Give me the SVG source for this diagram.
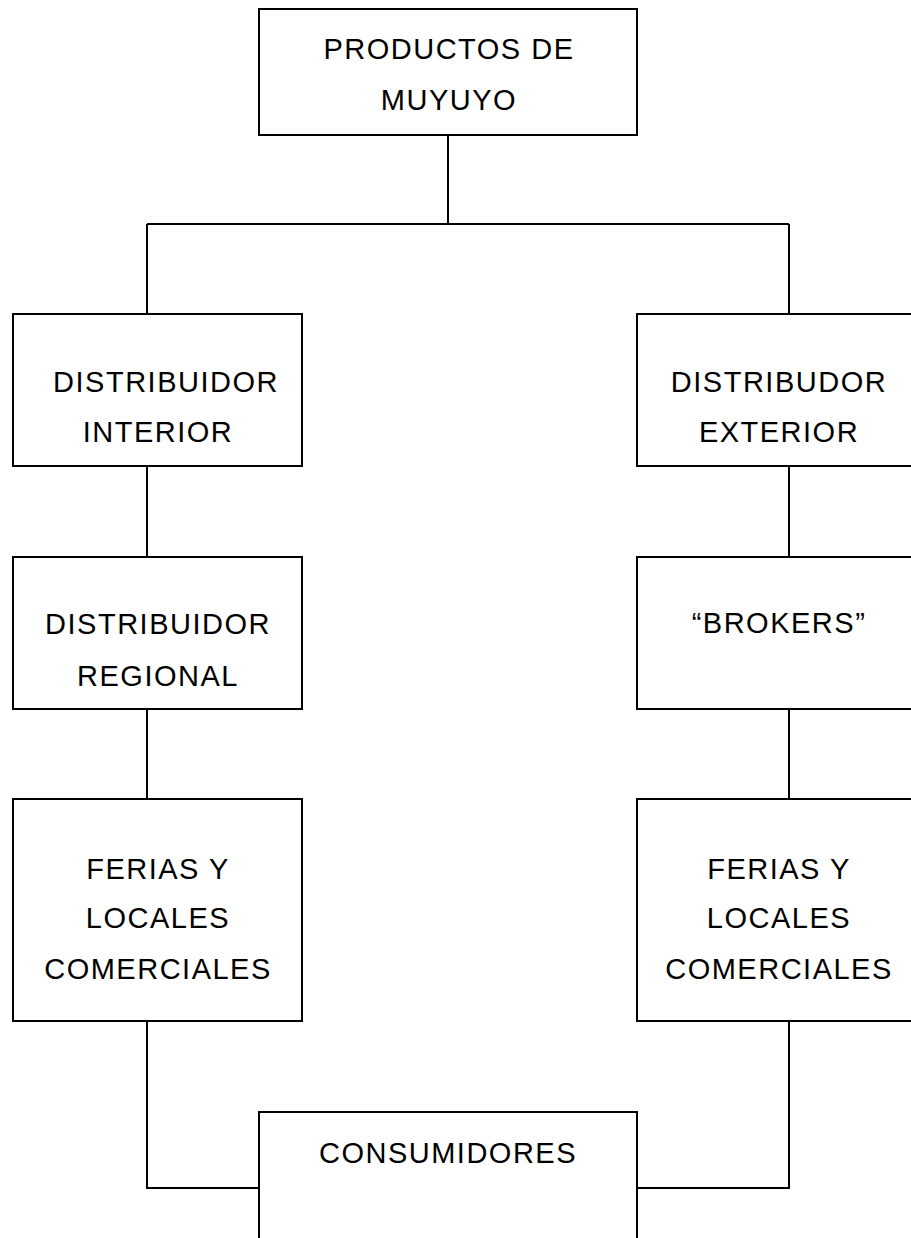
<svg xmlns="http://www.w3.org/2000/svg" width="911" height="1238" viewBox="0 0 911 1238">
<style>
.box{fill:#fff;stroke:#000;stroke-width:2}
.ln{fill:none;stroke:#000;stroke-width:2}
text{font-family:"Liberation Sans",Arial,sans-serif;font-size:29px;letter-spacing:1.5px;fill:#000;text-anchor:middle}
</style>
<rect width="911" height="1238" fill="#fff"/>
<g id="connectors">
<path class="ln" d="M448 135V224M147 224H789M147 224V314M789 224V314"/>
<path class="ln" d="M147 466V557M789 466V557"/>
<path class="ln" d="M147 709V799M789 709V799"/>
<path class="ln" d="M147 1021V1188H259M789 1021V1188H637"/>
</g>
<g id="productos">
<rect class="box" x="259" y="9" width="378" height="126"/>
<text x="449" y="59">PRODUCTOS DE</text>
<text x="449" y="110">MUYUYO</text>
</g>
<g id="dist-interior">
<rect class="box" x="13" y="314" width="289" height="152"/>
<text x="166" y="392">DISTRIBUIDOR</text>
<text x="158" y="442">INTERIOR</text>
</g>
<g id="dist-exterior">
<rect class="box" x="637" y="314" width="289" height="152"/>
<text x="779" y="392">DISTRIBUDOR</text>
<text x="779" y="442">EXTERIOR</text>
</g>
<g id="dist-regional">
<rect class="box" x="13" y="557" width="289" height="152"/>
<text x="158" y="634">DISTRIBUIDOR</text>
<text x="158" y="686">REGIONAL</text>
</g>
<g id="brokers">
<rect class="box" x="637" y="557" width="289" height="152"/>
<text x="779" y="633">“BROKERS”</text>
</g>
<g id="ferias-izq">
<rect class="box" x="13" y="799" width="289" height="222"/>
<text x="158" y="879">FERIAS Y</text>
<text x="158" y="928">LOCALES</text>
<text x="158" y="979">COMERCIALES</text>
</g>
<g id="ferias-der">
<rect class="box" x="637" y="799" width="289" height="222"/>
<text x="779" y="879">FERIAS Y</text>
<text x="779" y="928">LOCALES</text>
<text x="779" y="979">COMERCIALES</text>
</g>
<g id="consumidores">
<rect class="box" x="259" y="1112" width="378" height="140"/>
<text x="448" y="1163">CONSUMIDORES</text>
</g>
</svg>
